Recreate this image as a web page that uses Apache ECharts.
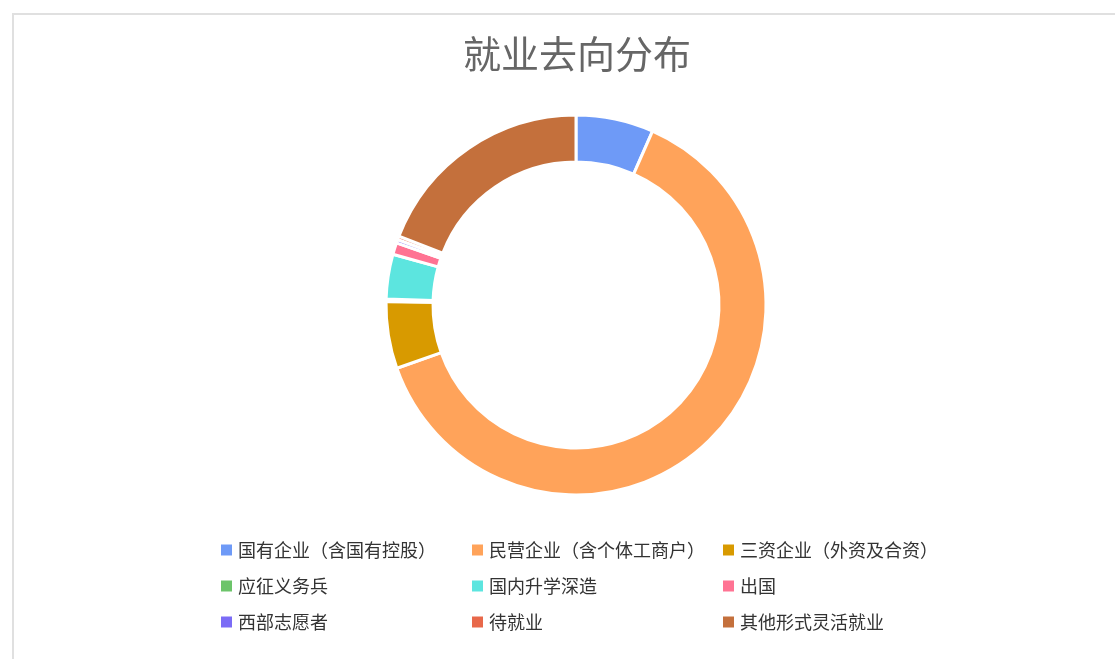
<!DOCTYPE html>
<html>
<head>
<meta charset="utf-8">
<script src="https://cdn.jsdelivr.net/npm/echarts@6/dist/echarts.min.js"></script>
<style>
html,body{margin:0;padding:0;background:#fff;overflow:hidden;}
#box{position:absolute;left:12px;top:13px;width:1130px;height:700px;border:2px solid #e0e0e0;box-sizing:border-box;}
#chart{position:absolute;left:0;top:0;width:1115px;height:659px;}
</style>
</head>
<body>
<div id="box"></div>
<div id="chart"></div>
<script>
const titleText = '就业去向分布';
const categories = [
  '国有企业（含国有控股）',
  '民营企业（含个体工商户）',
  '三资企业（外资及合资）',
  '应征义务兵',
  '国内升学深造',
  '出国',
  '西部志愿者',
  '待就业',
  '其他形式灵活就业'
];
const values = [66, 630, 57, 2, 38, 10, 3, 3, 191];
const colors = ['#6E9AF7', '#FFA35A', '#D89A00', '#6CC46A', '#5CE5DF', '#FF7393', '#7B6CF6', '#E8684A', '#C4703C'];

const chart = echarts.init(document.getElementById('chart'), null, {renderer: 'canvas'});
chart.setOption({
  backgroundColor: 'transparent',
  animation: false,
  color: colors,
  title: {
    text: titleText,
    left: 572,
    textAlign: 'center',
    top: 30,
    textStyle: {fontSize: 38, fontWeight: 'normal', color: '#666', fontFamily: 'Noto Sans CJK SC'}
  },
  legend: {
    data: categories,
    left: 214,
    top: 533,
    width: 760,
    itemWidth: 13,
    itemHeight: 13,
    itemGap: 12,
    icon: 'rect',
    textStyle: {fontSize: 18, color: '#333', width: 220, overflow: 'truncate', lineHeight: 24, fontFamily: 'Noto Sans CJK SC'}
  },
  series: [{
    type: 'pie',
    center: [576, 305],
    radius: [143, 190],
    startAngle: 90,
    clockwise: true,
    avoidLabelOverlap: false,
    label: {show: false},
    labelLine: {show: false},
    itemStyle: {borderColor: '#fff', borderWidth: 3},
    data: categories.map((c, i) => ({name: c, value: values[i]}))
  }]
});
</script>
</body>
</html>
